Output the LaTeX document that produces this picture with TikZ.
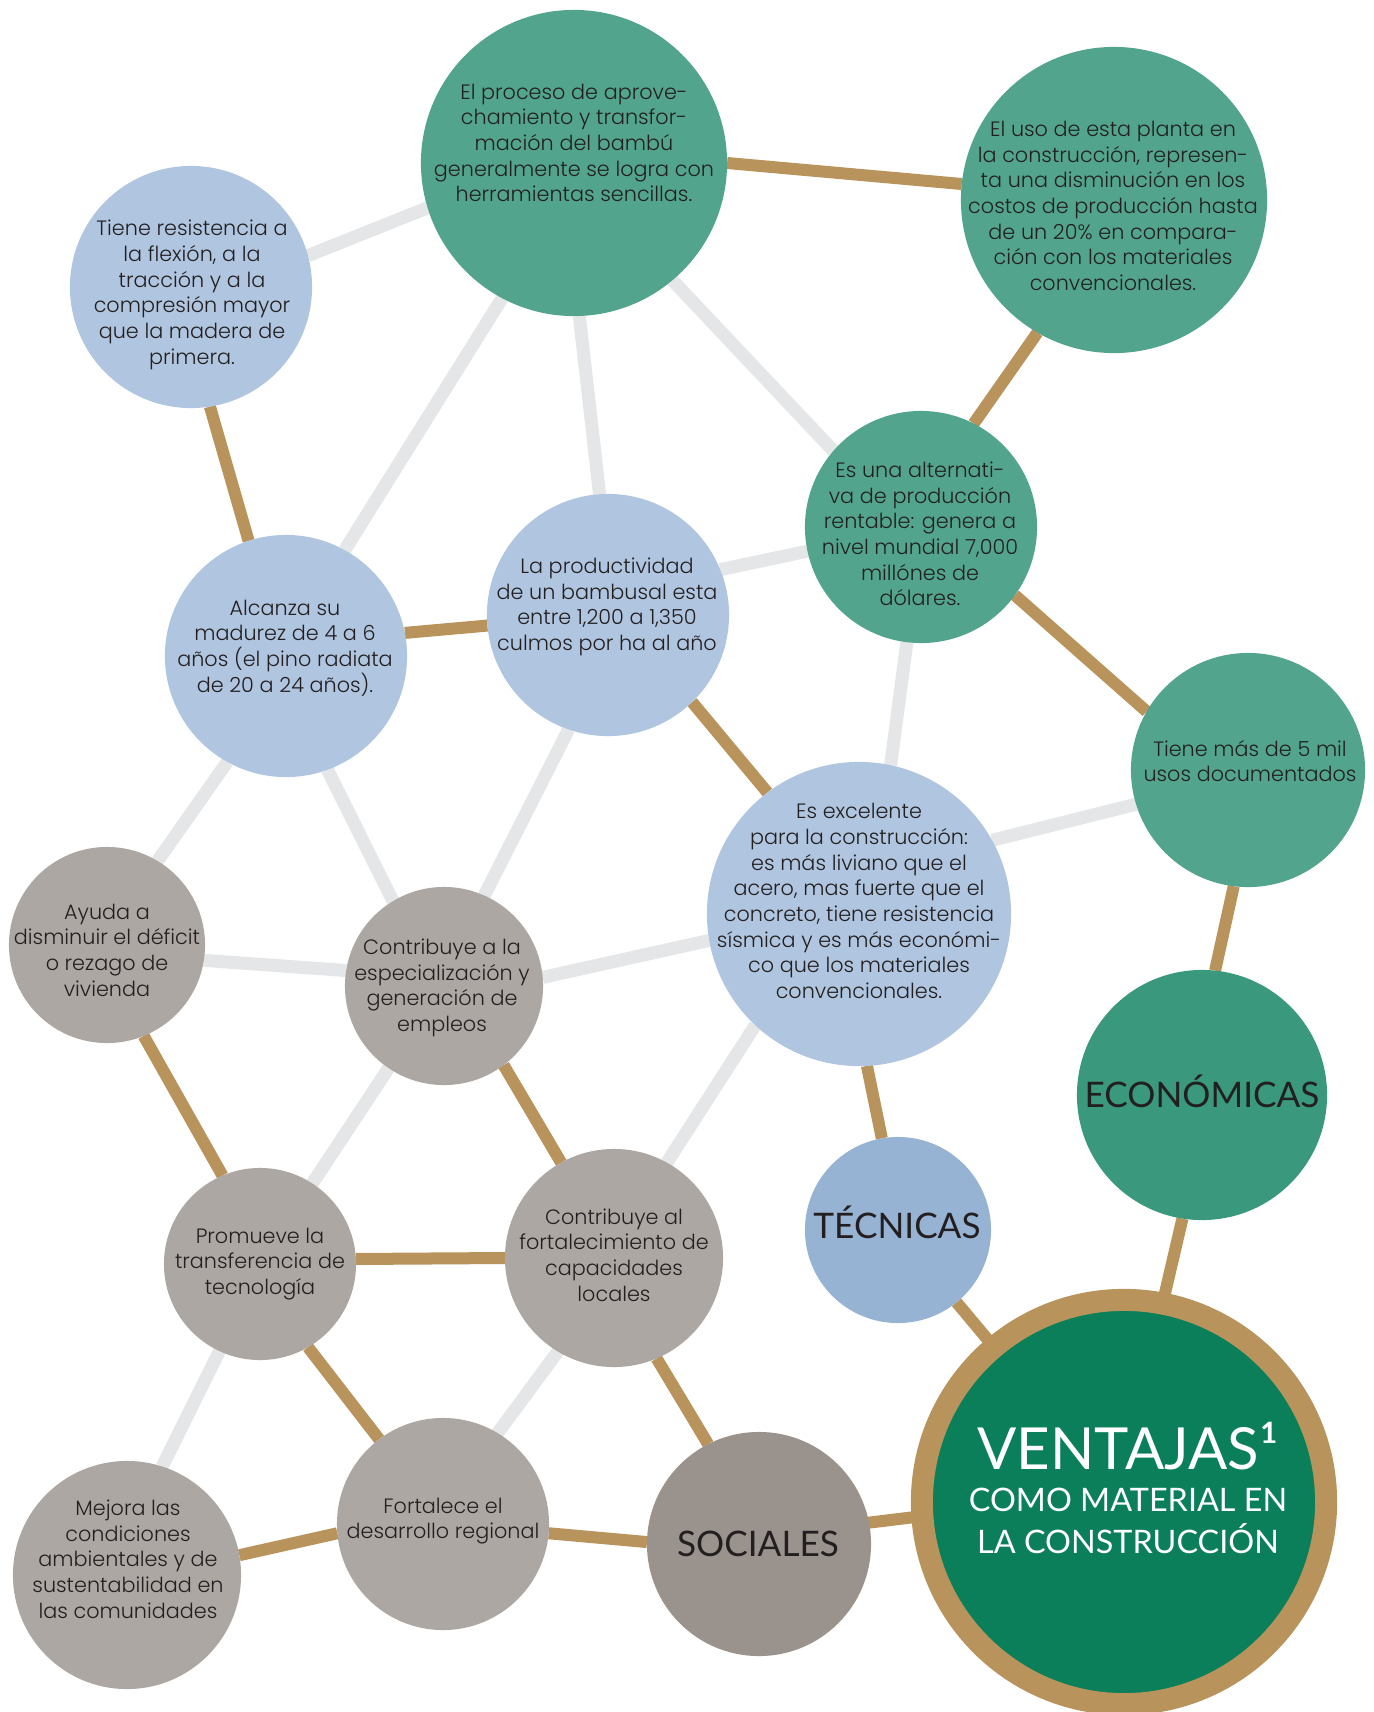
\documentclass[tikz,border=0pt]{standalone}
\usepackage{fontspec}
\setmainfont{Poppins}[UprightFont=* Light]
\newfontfamily\headfont{Lato}
\usetikzlibrary{backgrounds}
\definecolor{verdeM}{RGB}{82,165,140}
\definecolor{verdeE}{RGB}{58,152,124}
\definecolor{verdeV}{RGB}{10,127,90}
\definecolor{oro}{RGB}{185,147,92}
\definecolor{azulC}{RGB}{176,197,223}
\definecolor{azulT}{RGB}{151,179,212}
\definecolor{grisC}{RGB}{173,167,163}
\definecolor{grisS}{RGB}{154,146,140}
\definecolor{grisL}{RGB}{229,230,232}
\definecolor{tinta}{RGB}{35,31,32}
\tikzset{
  bub/.style={circle,inner sep=0pt,outer sep=0pt,draw=none},
  verde/.style={bub,fill=verdeM},
  azul/.style={bub,fill=azulC},
  gris/.style={bub,fill=grisC},
  txt/.style={align=center,text=tinta,font=\fontsize{5.9}{7.3}\selectfont},
  cab/.style={anchor=base,text=tinta,font=\headfont\fontsize{10}{11}\selectfont},
  goldlink/.style={draw=oro,line width=0.12cm,shorten <=-3pt,shorten >=-3pt},
  greylink/.style={draw=grisL,line width=0.13cm,shorten <=-3pt,shorten >=-3pt}
}
\begin{document}
\begin{tikzpicture}[x=0.01cm,y=-0.01cm]
\useasboundingbox (0,0) rectangle (1374,1712);
\node[verde,minimum size=3.06cm] (proceso) at (574,163) {};
\node[verde,minimum size=3.06cm] (uso) at (1114,200) {};
\node[azul,minimum size=2.42cm] (resist) at (191,287) {};
\node[verde,minimum size=2.32cm] (altern) at (921,527) {};
\node[azul,minimum size=2.42cm] (madurez) at (286,656) {};
\node[azul,minimum size=2.42cm] (product) at (608,615) {};
\node[verde,minimum size=2.34cm] (usos) at (1248,770) {};
\node[azul,minimum size=3.04cm] (excel) at (859,914) {};
\node[gris,minimum size=1.96cm] (vivienda) at (107,945) {};
\node[gris,minimum size=1.98cm] (empleo) at (444,986) {};
\node[bub,fill=verdeE,minimum size=2.50cm] (econ) at (1202,1095) {};
\node[gris,minimum size=1.92cm] (transf) at (260,1264) {};
\node[gris,minimum size=2.18cm] (capac) at (614,1258) {};
\node[bub,fill=azulT,minimum size=1.86cm] (tecn) at (898,1230) {};
\node[gris,minimum size=2.28cm] (ambien) at (127,1575) {};
\node[gris,minimum size=2.12cm] (region) at (443,1524) {};
\node[bub,fill=grisS,minimum size=2.24cm] (soc) at (759,1544) {};
\node[bub,fill=verdeV,draw=oro,line width=0.22cm,minimum size=4.04cm] (vent) at (1124,1502) {};
\node[txt] (proceso-t) at (574,143) {El proceso de aprove-\\chamiento y transfor-\\mación del bambú\\generalmente se logra con\\herramientas sencillas.};
\node[txt] (uso-t) at (1113,206) {El uso de esta planta en\\la construcción, represen-\\ta una disminución en los\\costos de producción hasta\\de un 20\% en compara-\\ción con los materiales\\convencionales.};
\node[txt] (resist-t) at (192,295) {Tiene resistencia a\\la flexión, a la\\tracción y a la\\compresión mayor\\que la madera de\\primera.};
\node[txt] (altern-t) at (920,534) {Es una alternati-\\va de producción\\rentable: genera a\\nivel mundial 7,000\\millónes de\\dólares.};
\node[txt] (madurez-t) at (285,648) {Alcanza su\\madurez de 4 a 6\\años (el pino radiata\\de 20 a 24 años).};
\node[txt] (product-t) at (607,607) {La productividad\\de un bambusal esta\\entre 1,200 a 1,350\\culmos por ha al año};
\node[txt] (usos-t) at (1250,761) {Tiene más de 5 mil\\usos documentados};
\node[txt] (excel-t) at (859,901) {Es excelente\\para la construcción:\\es más liviano que el\\acero, mas fuerte que el\\concreto, tiene resistencia\\sísmica y es más económi-\\co que los materiales\\convencionales.};
\node[txt] (vivienda-t) at (107,950) {Ayuda a\\disminuir el déficit\\o rezago de\\vivienda};
\node[txt] (empleo-t) at (442,988) {Contribuye a la\\especialización y\\generación de\\empleos};
\node[txt] (transf-t) at (260,1264) {Promueve la\\transferencia de\\tecnología};
\node[txt] (capac-t) at (614,1255) {Contribuye al\\fortalecimiento de\\capacidades\\locales};
\node[txt] (ambien-t) at (128,1559) {Mejora las\\condiciones\\ambientales y de\\sustentabilidad en\\las comunidades};
\node[txt] (region-t) at (443,1521) {Fortalece el\\desarrollo regional};
\node[cab] (tecn-t) at (897,1238) {TÉCNICAS};
\node[cab] (econ-t) at (1202,1107) {ECONÓMICAS};
\node[cab] (soc-t) at (758,1556) {SOCIALES};
\node[align=center,text=white,font=\headfont\fontsize{9.2}{12}\selectfont] (vent-t) at (1128,1488)
  {{\fontsize{16.5}{12}\selectfont VENTAJAS¹}\\COMO MATERIAL EN\\LA CONSTRUCCIÓN};
\begin{pgfonlayer}{background}
\fill[white] (0,0) rectangle (1374,1712);
\draw[greylink] (resist.15)--(proceso.197) (proceso.242)--(madurez.61) (proceso.272)--(product.94)
  (proceso.310)--(altern.139) (product.22)--(altern.192) (altern.263)--(excel.78)
  (excel.29)--(usos.197) (madurez.241)--(vivienda.59) (madurez.290)--(empleo.121)
  (product.251)--(empleo.66) (vivienda.351)--(empleo.171) (empleo.5)--(excel.190)
  (empleo.236)--(transf.57) (excel.227)--(capac.61) (transf.245)--(ambien.72)
  (capac.239)--(region.59);
\draw[goldlink] (proceso.0)--(uso.174) (uso.240)--(altern.63) (altern.324)--(usos.150)
  (resist.279)--(madurez.108) (madurez.11)--(product.185) (product.314)--(excel.127)
  (usos.263)--(econ.84) (econ.261)--(vent.79) (excel.273)--(tecn.100) (tecn.309)--(vent.130)
  (vivienda.292)--(transf.113) (empleo.307)--(capac.119) (transf.3)--(capac.180)
  (transf.300)--(region.127) (capac.293)--(soc.117) (ambien.10)--(region.185)
  (region.355)--(soc.179) (soc.11)--(vent.184);
\end{pgfonlayer}
\end{tikzpicture}
\end{document}
